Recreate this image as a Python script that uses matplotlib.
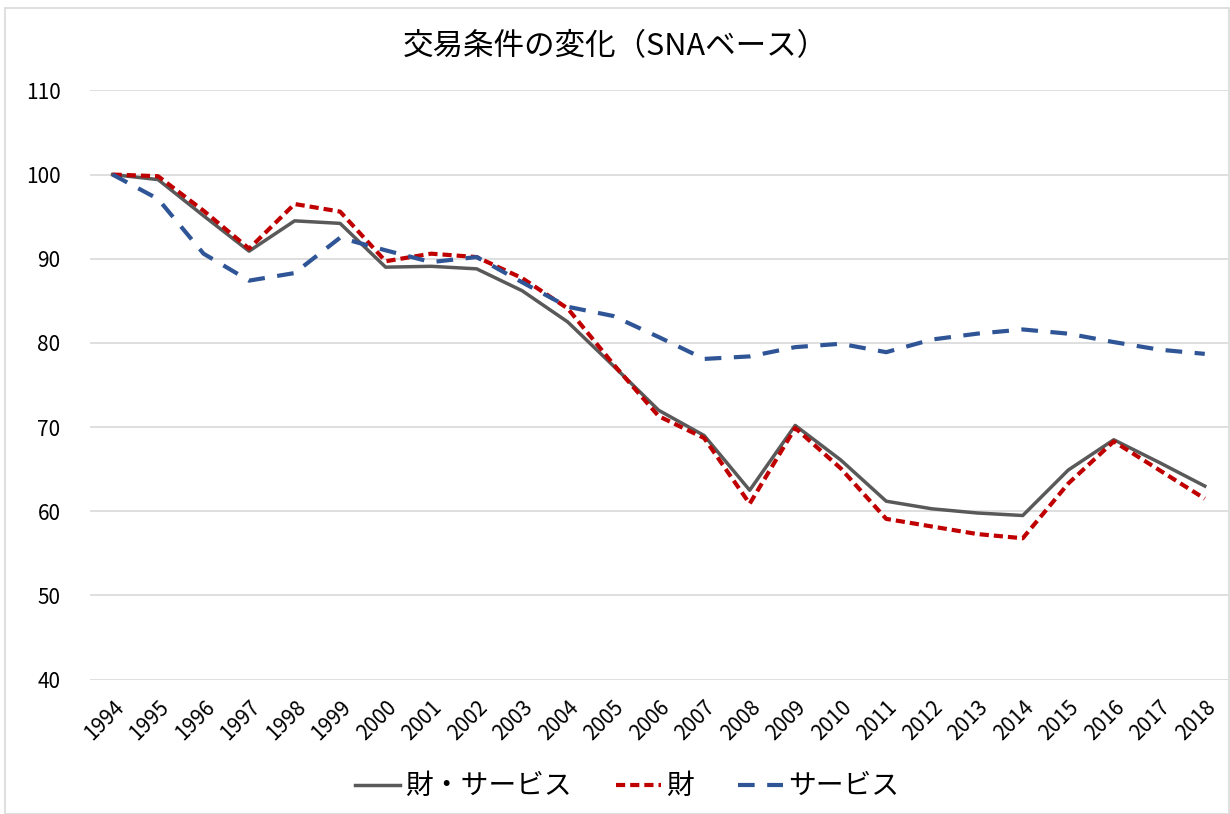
import matplotlib
matplotlib.use('Agg')
import matplotlib.pyplot as plt
from matplotlib.patches import Rectangle

plt.rcParams['font.family'] = ['Noto Sans CJK JP', 'DejaVu Sans']

# Data
years = [str(y) for y in range(1994, 2019)]
goods_services = [100.0, 99.4, 95.1, 90.9, 94.5, 94.2, 89.0, 89.1, 88.8, 86.2,
                  82.5, 77.3, 72.0, 69.0, 62.5, 70.2, 66.1, 61.2, 60.3, 59.8,
                  59.5, 64.9, 68.5, 65.8, 63.0]
goods = [100.0, 99.8, 95.7, 91.2, 96.5, 95.6, 89.7, 90.6, 90.2, 87.7,
         84.1, 77.5, 71.3, 68.7, 60.9, 69.9, 65.1, 59.1, 58.2, 57.3,
         56.8, 63.3, 68.3, 64.9, 61.5]
services = [100.0, 97.1, 90.6, 87.4, 88.3, 92.5, 91.0, 89.6, 90.2, 87.2,
            84.3, 83.2, 80.7, 78.1, 78.4, 79.5, 79.9, 78.9, 80.4, 81.1,
            81.6, 81.1, 80.1, 79.2, 78.7]

fig = plt.figure(figsize=(12.3, 8.14), dpi=100)
ax = fig.add_axes([0.073, 0.165, 0.925, 0.724])

x = range(len(years))
ax.plot(x, goods_services, color='#595959', linewidth=2.5, label='財・サービス')
ax.plot(x, goods, color='#c00000', linewidth=3, linestyle=(0, (2.2, 1.2)), label='財')
ax.plot(x, services, color='#2f5597', linewidth=3, linestyle=(0, (4, 3)), label='サービス')

ax.set_xlim(-0.5, len(years) - 0.5)
ax.set_ylim(40, 110)
ax.set_yticks(range(40, 111, 10))
ax.set_xticks(list(x))
ax.set_xticklabels(years, rotation=45, ha='right', rotation_mode='anchor', fontsize=15)
ax.tick_params(axis='y', labelsize=15, length=0, pad=21)
ax.tick_params(axis='x', length=0, pad=12)
ax.grid(axis='y', color='#d9d9d9', linewidth=1.2)
ax.set_axisbelow(True)
for s in ax.spines.values():
    s.set_visible(False)

fig.text(0.5, 0.943, '交易条件の変化（SNAベース）', ha='center', va='center', fontsize=22)

fig.legend(loc='center', bbox_to_anchor=(0.51, 0.034), ncol=3, frameon=False,
           fontsize=20, handlelength=1.6, handletextpad=0.2, columnspacing=1.6)

# Chart border
fig.patches.append(Rectangle((0.004, 0.0), 0.995, 0.99, transform=fig.transFigure,
                             fill=False, edgecolor='#d9d9d9', linewidth=1.2))

fig.savefig('out.png', dpi=100)
